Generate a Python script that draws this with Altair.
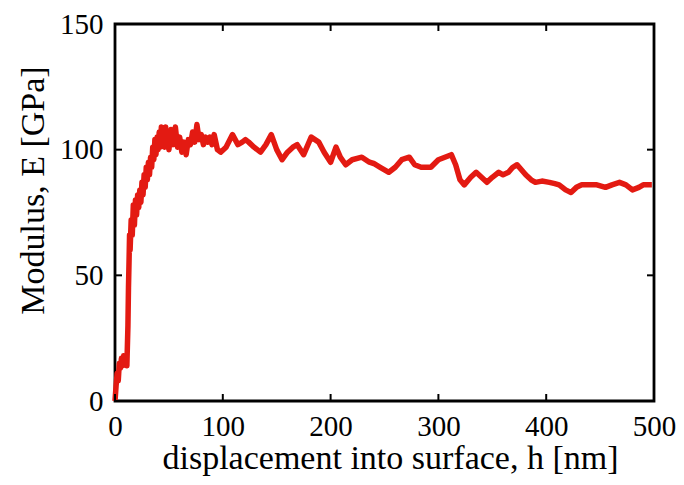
import altair as alt
import pandas as pd

# displacement into surface h [nm]
h_nm = [0, 1, 2, 3, 4, 5, 6, 7, 8, 9,
        10, 11, 12, 12.5, 13, 13.5, 14, 15, 16, 17,
        18, 19, 20, 21, 22, 23, 24, 25, 26, 27,
        28, 29, 30, 31, 32, 33, 34, 35, 36, 37,
        38, 39, 40, 41, 42, 43, 44, 45, 46, 47,
        48, 49, 50, 52, 54, 56, 58, 60, 62, 64,
        66, 68, 70, 72, 74, 76, 78, 80, 82, 84,
        86, 88, 90, 92, 95, 98, 103, 109, 114, 118,
        121, 124, 129, 135, 140, 145, 150, 155, 160, 165,
        169, 175, 182, 189, 194, 200, 205, 209, 214, 220,
        229, 236, 240, 246, 254, 260, 266, 273, 278, 284,
        288, 293, 300, 306, 312, 316, 320, 324, 330, 335,
        340, 345, 350, 356, 360, 365, 369, 373, 377, 381,
        386, 390, 396, 403, 408, 412, 418, 423, 428, 433,
        440, 447, 455, 461, 468, 474, 480, 486, 490, 495,
        498]
# modulus E [GPa]
modulus_gpa = [0, 6, 11, 8, 15, 13, 17, 14, 18, 15,
               17, 14, 30, 45, 55, 66, 60, 72, 66, 78,
               70, 80, 74, 82, 77, 84, 79, 87, 82, 90,
               85, 93, 88, 95, 90, 97, 93, 101, 96, 104,
               98, 105, 100, 107, 101, 109, 102, 107, 101, 109,
               103, 107, 100, 108, 102, 109, 101, 105, 99, 103,
               98, 104, 102, 107, 103, 110, 104, 106, 102, 105,
               103, 105, 102, 106, 100, 99, 101, 106, 102, 103,
               104, 103, 101, 99, 102, 106, 100, 96, 99, 101,
               102, 98, 105, 103, 99, 95, 101, 97, 94, 96,
               97, 95, 94.5, 93, 91, 93, 96, 97, 94, 93,
               93, 93, 96, 97, 98, 94, 88, 86, 89, 91,
               89, 87, 89, 91, 90, 91, 93, 94, 92, 90,
               88, 87, 87.5, 87, 86.5, 86, 84, 83, 85, 86,
               86, 86, 85, 86, 87, 86, 84, 85, 86, 86,
               86]

x_ticks = [0, 100, 200, 300, 400, 500]
y_ticks = [0, 50, 100, 150]

W, H = 539, 377
FONT = "Liberation Serif"
TICK_LEN = 7

curve = pd.DataFrame({"h": h_nm, "E": modulus_gpa})
xt = pd.DataFrame({"h": x_ticks})
yt = pd.DataFrame({"E": y_ticks})

xscale = alt.Scale(domain=[0, 500], nice=False, zero=False)
yscale = alt.Scale(domain=[0, 150], nice=False, zero=False)

line = alt.Chart(curve).mark_line(color="#e31a12", strokeWidth=5.5, strokeJoin="round").encode(
    x=alt.X("h:Q", scale=xscale,
            axis=alt.Axis(title="displacement into surface, h [nm]", values=x_ticks,
                          ticks=False, tickSize=0, domain=False, grid=False,
                          labelPadding=11, labelFlush=False,
                          titleBaseline="alphabetic", titleY=67, titleX=275)),
    y=alt.Y("E:Q", scale=yscale,
            axis=alt.Axis(title="Modulus, E [GPa]", values=y_ticks,
                          ticks=False, tickSize=0, domain=False, grid=False,
                          labelPadding=12, labelFlush=False,
                          titleBaseline="alphabetic", titleX=-72, titleY=166)),
    order="h:Q",
)

xb = alt.Chart(xt).mark_rule(color="black", strokeWidth=2).encode(
    x=alt.X("h:Q", scale=xscale), y=alt.value(H), y2=alt.value(H - TICK_LEN))
xtop = alt.Chart(xt).mark_rule(color="black", strokeWidth=2).encode(
    x=alt.X("h:Q", scale=xscale), y=alt.value(0), y2=alt.value(TICK_LEN))
yl = alt.Chart(yt).mark_rule(color="black", strokeWidth=2).encode(
    y=alt.Y("E:Q", scale=yscale), x=alt.value(0), x2=alt.value(TICK_LEN))
yr = alt.Chart(yt).mark_rule(color="black", strokeWidth=2).encode(
    y=alt.Y("E:Q", scale=yscale), x=alt.value(W), x2=alt.value(W - TICK_LEN))

chart = alt.layer(line, xb, xtop, yl, yr).properties(
    width=W, height=H,
    background="white",
    autosize=alt.AutoSizeParams(type="none"),
    padding={"left": 107, "top": 16, "right": 22, "bottom": 76},
).configure_view(
    stroke="black", strokeWidth=2.8
).configure_axis(
    labelFont=FONT, labelFontSize=29, labelColor="black",
    titleFont=FONT, titleFontSize=34, titleColor="black", titleFontWeight="normal",
)

chart.save("out.html", embed_options={"renderer": "svg", "actions": False})
